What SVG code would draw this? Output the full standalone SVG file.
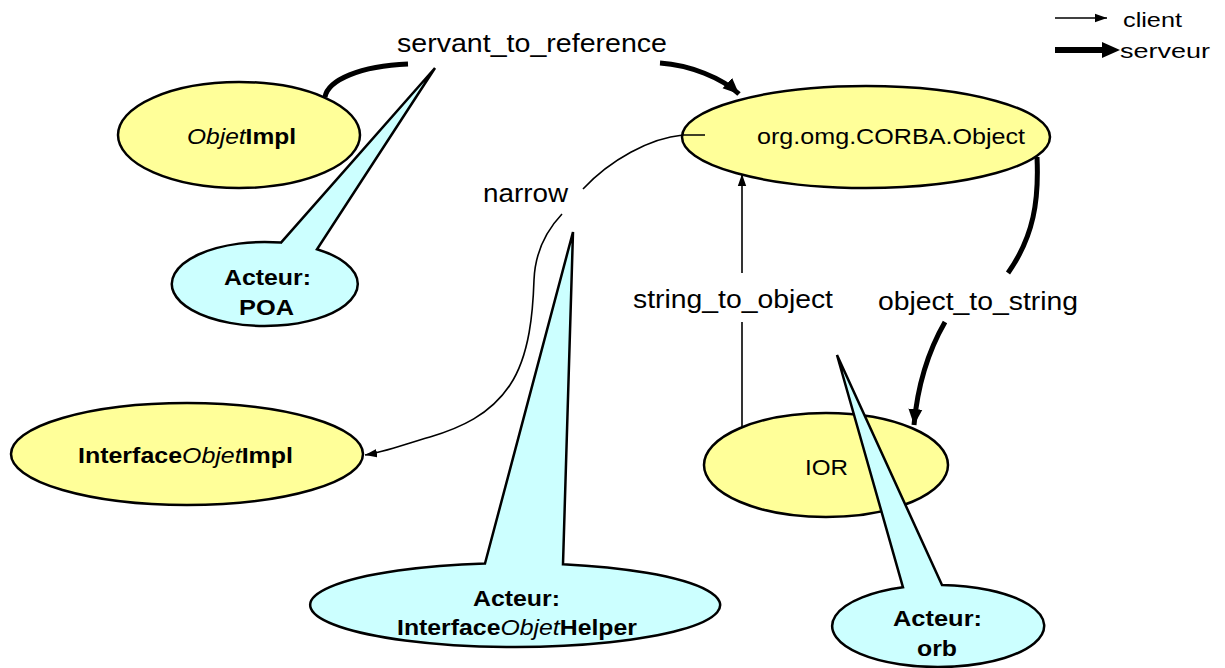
<svg xmlns="http://www.w3.org/2000/svg" width="1225" height="668" viewBox="0 0 1225 668">
<style>
  text { font-family: "Liberation Sans", Arial, sans-serif; fill: #000; }
  .lbl { font-size: 25px; }
  .nt { font-size: 22px; }
  .leg { font-size: 21px; }
  .b { font-weight: bold; }
  .i { font-style: italic; }
  .yel { fill: #FFFF99; stroke: #000; stroke-width: 2.5; }
  .cy { fill: #CCFFFF; stroke: #000; stroke-width: 2.5; stroke-linejoin: miter; }
  .thin { fill: none; stroke: #000; stroke-width: 1.6; }
  .thick { fill: none; stroke: #000; stroke-width: 5; stroke-linecap: butt; }
</style>
<defs>
  <marker id="ahThin" markerUnits="userSpaceOnUse" markerWidth="14" markerHeight="10" refX="12" refY="5" orient="auto">
    <path d="M0,0.8 L12,5 L0,9.2 Z" fill="#000"/>
  </marker>
  <marker id="ahThick" markerUnits="userSpaceOnUse" markerWidth="18" markerHeight="16" refX="16" refY="8" orient="auto">
    <path d="M0,1 L16,8 L0,15 Z" fill="#000"/>
  </marker>
</defs>

<g id="node-objetimpl">
  <ellipse class="yel" cx="239" cy="135" rx="121" ry="53"/>
  <text class="nt" x="187" y="144" textLength="109" lengthAdjust="spacingAndGlyphs"><tspan class="i">Objet</tspan><tspan class="b">Impl</tspan></text>
</g>

<g id="node-poa">
  <path class="cy" d="M281,242.6 L435,68 L317,249.2 A93,42 0 1 1 281,242.6 Z"/>
  <text class="nt b" x="224" y="285" textLength="87" lengthAdjust="spacingAndGlyphs">Acteur:</text>
  <text class="nt b" x="239" y="315" textLength="55" lengthAdjust="spacingAndGlyphs">POA</text>
</g>

<g id="node-corba-object">
  <ellipse class="yel" cx="866" cy="137" rx="184" ry="51"/>
  <text class="nt" x="757" y="144" textLength="268" lengthAdjust="spacingAndGlyphs">org.omg.CORBA.Object</text>
</g>

<g id="node-interfaceobjetimpl">
  <ellipse class="yel" cx="187" cy="454" rx="176" ry="51"/>
  <text class="nt" x="78" y="463" textLength="215" lengthAdjust="spacingAndGlyphs"><tspan class="b">Interface</tspan><tspan class="i">Objet</tspan><tspan class="b">Impl</tspan></text>
</g>

<g id="node-helper">
  <path class="cy" d="M485,563.5 L573,232 L563,564.2 A205,42 0 1 1 485,563.5 Z"/>
  <text class="nt b" x="473" y="606" textLength="87" lengthAdjust="spacingAndGlyphs">Acteur:</text>
  <text class="nt" x="397" y="635" textLength="240" lengthAdjust="spacingAndGlyphs"><tspan class="b">Interface</tspan><tspan class="i">Objet</tspan><tspan class="b">Helper</tspan></text>
</g>

<g id="node-ior">
  <ellipse class="yel" cx="826" cy="465" rx="122" ry="52"/>
  <text class="nt" x="805" y="475" textLength="43" lengthAdjust="spacingAndGlyphs">IOR</text>
</g>

<g id="node-orb">
  <path class="cy" d="M903,587.3 L837,355 L942,585 A106,41 0 1 1 903,587.3 Z"/>
  <text class="nt b" x="893" y="626" textLength="89" lengthAdjust="spacingAndGlyphs">Acteur:</text>
  <text class="nt b" x="917" y="656" textLength="40" lengthAdjust="spacingAndGlyphs">orb</text>
</g>

<g id="connectors">
  <!-- servant_to_reference (serveur) -->
  <path class="thick" d="M325,97 C328,80 360,66 408,64"/>
  <path class="thick" d="M660,63 C690,65 722,78 739,94" marker-end="url(#ahThick)"/>
  <text class="lbl" x="397" y="52" textLength="270" lengthAdjust="spacingAndGlyphs">servant_to_reference</text>

  <!-- narrow (client) -->
  <path class="thin" d="M705,135 L683,135 C650,138 610,160 583,189"/>
  <path class="thin" d="M562,214 C545,232 535,255 534,280 C533,310 530,355 510,385 C490,415 460,428 430,437 C405,444 385,452 365,455" marker-end="url(#ahThin)"/>
  <text class="lbl" x="483" y="202" textLength="85" lengthAdjust="spacingAndGlyphs">narrow</text>

  <!-- string_to_object (client) -->
  <path class="thin" d="M742,427 L742,322"/>
  <path class="thin" d="M742,273 L742,174" marker-end="url(#ahThin)"/>
  <text class="lbl" x="633" y="308" textLength="200" lengthAdjust="spacingAndGlyphs">string_to_object</text>

  <!-- object_to_string (serveur) -->
  <path class="thick" d="M1037,157 C1039,200 1034,236 1008,273"/>
  <path class="thick" d="M945,322 C930,348 918,380 914,425" marker-end="url(#ahThick)"/>
  <text class="lbl" x="878" y="310" textLength="200" lengthAdjust="spacingAndGlyphs">object_to_string</text>
</g>

<g id="legend">
  <path class="thin" d="M1055,18 L1107,18" marker-end="url(#ahThin)"/>
  <text class="leg" x="1123" y="27" textLength="59" lengthAdjust="spacingAndGlyphs">client</text>
  <path d="M1055,50 L1105,50" stroke="#000" stroke-width="6" fill="none"/>
  <path d="M1102,42 L1120,50 L1102,58 Z" fill="#000"/>
  <text class="leg" x="1120" y="58" textLength="90" lengthAdjust="spacingAndGlyphs">serveur</text>
</g>
</svg>
